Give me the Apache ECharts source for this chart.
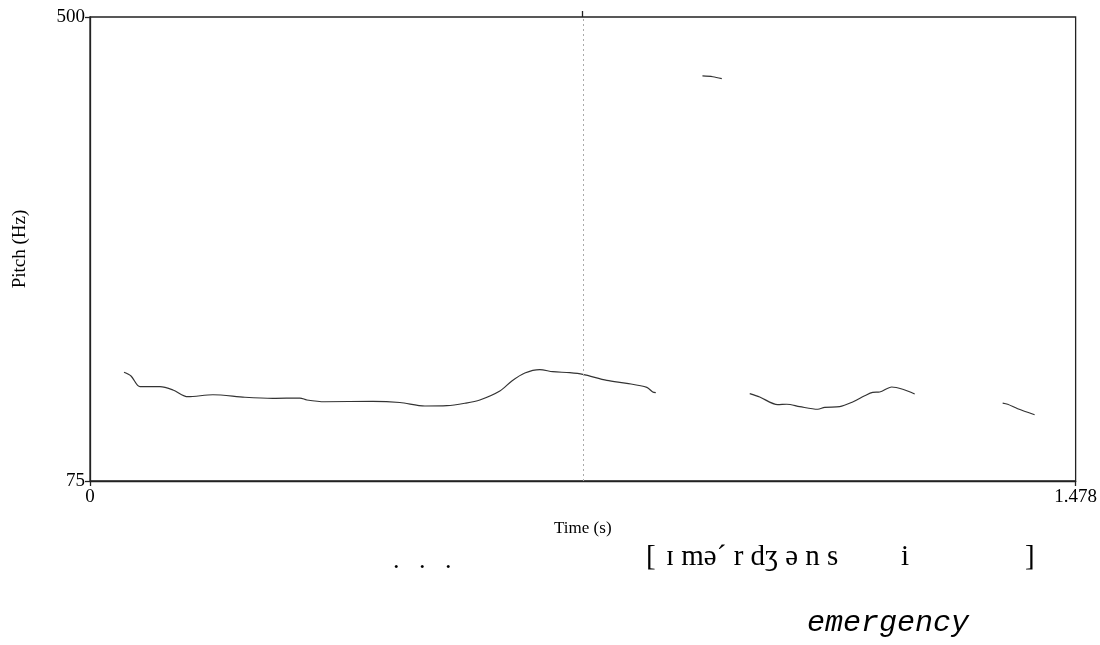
<!DOCTYPE html>
<html>
<head>
<meta charset="utf-8">
<script src="https://cdn.jsdelivr.net/npm/echarts@6/dist/echarts.min.js"></script>
<style>
  html, body { margin: 0; padding: 0; background: #fff; }
  #chart { width: 1100px; height: 645px; }
</style>
</head>
<body>
<div id="chart"></div>
<script>
// Pitch track (time in s, F0 in Hz), split into voiced stretches
const segmentA = [
  [0.0510, 174.6], [0.0615, 171.2], [0.0750, 161.4], [0.1049, 161.4], [0.1244, 158.4],
  [0.1469, 152.2], [0.1844, 154.0], [0.2323, 151.7], [0.2743, 150.7], [0.3148, 151.0],
  [0.3253, 149.2], [0.3523, 147.6], [0.4242, 148.0], [0.4647, 146.9], [0.5022, 143.7],
  [0.5351, 144.0], [0.5621, 146.2], [0.5846, 149.2], [0.6146, 157.4], [0.6326, 166.6],
  [0.6521, 173.9], [0.6745, 177.0], [0.6940, 175.1], [0.7195, 174.2], [0.7390, 172.7],
  [0.7750, 167.2], [0.8050, 164.5], [0.8350, 160.8], [0.8439, 156.5], [0.8484, 155.9]
];
const segmentB = [
  [0.9184, 446.0], [0.9339, 445.3], [0.9474, 443.5]
];
const segmentC = [
  [0.9893, 155.0], [1.0043, 151.9], [1.0313, 144.9], [1.0448, 145.3], [1.0643, 143.1],
  [1.0913, 140.7], [1.1017, 142.5], [1.1242, 143.1], [1.1437, 147.4], [1.1617, 153.1],
  [1.1737, 156.2], [1.1842, 156.5], [1.2022, 161.1], [1.2187, 159.0], [1.2367, 154.7]
];
const segmentD = [
  [1.3686, 146.4], [1.3761, 145.3], [1.3911, 141.2], [1.4165, 135.7]
];
const segments = [segmentA, segmentB, segmentC, segmentD];

const timeTicks = [0, 1.478];
const pitchTicks = [75, 500];
const cursorTime = 0.7375;

const serif = '"Liberation Serif", "Times New Roman", "DejaVu Serif", serif';
const frameColor = '#222';

const chart = echarts.init(document.getElementById('chart'), null, { renderer: 'canvas' });

const series = segments.map((seg, i) => ({
  type: 'line',
  data: seg,
  showSymbol: false,
  smooth: 0.3,
  silent: true,
  lineStyle: { color: '#333', width: 1.2 },
  markLine: i === 0 ? {
    silent: true,
    symbol: 'none',
    label: { show: false },
    lineStyle: { color: '#aaa', type: [2, 3], width: 1 },
    data: [{ xAxis: cursorTime }]
  } : undefined
}));

chart.setOption({
  animation: false,
  backgroundColor: '#fff',
  grid: {
    left: 90, right: 24, top: 17, bottom: 164,
    show: true, borderColor: frameColor, borderWidth: 1.3, backgroundColor: 'transparent'
  },
  xAxis: [{
    type: 'value',
    min: timeTicks[0], max: timeTicks[1],
    position: 'bottom',
    name: 'Time (s)',
    nameLocation: 'middle',
    nameGap: 39,
    nameTextStyle: { fontFamily: serif, fontSize: 17, color: '#000' },
    splitLine: { show: false },
    axisLine: { show: true, onZero: false, lineStyle: { color: frameColor, width: 1.3 } },
    axisTick: { show: true, inside: false, length: 5, customValues: timeTicks, lineStyle: { color: frameColor, width: 1.3 } },
    axisLabel: {
      show: true, customValues: timeTicks, margin: 7,
      fontFamily: serif, fontSize: 19, color: '#000',
      formatter: v => String(v)
    }
  }, {
    type: 'value',
    min: timeTicks[0], max: timeTicks[1],
    position: 'top',
    splitLine: { show: false },
    axisLine: { show: false },
    axisTick: { show: true, inside: false, length: 6, customValues: [cursorTime], lineStyle: { color: frameColor, width: 1.3 } },
    axisLabel: { show: false }
  }],
  yAxis: {
    type: 'value',
    min: pitchTicks[0], max: pitchTicks[1],
    name: 'Pitch (Hz)',
    nameLocation: 'middle',
    nameGap: 60,
    nameRotate: 90,
    nameTextStyle: { fontFamily: serif, fontSize: 19, color: '#000' },
    splitLine: { show: false },
    axisLine: { show: true, onZero: false, lineStyle: { color: frameColor, width: 1.3 } },
    axisTick: { show: true, inside: false, length: 5, customValues: pitchTicks, lineStyle: { color: frameColor, width: 1.3 } },
    axisLabel: {
      show: true, customValues: pitchTicks, margin: 5,
      fontFamily: serif, fontSize: 19, color: '#000',
      formatter: v => String(v)
    }
  },
  series: series,
  graphic: [
    { type: 'text', left: 393, top: 548, style: { text: '.   .   .', font: '26px ' + serif, fill: '#000' } },
    { type: 'text', left: 646, top: 543, style: { text: '[', font: '29px ' + serif, fill: '#000' } },
    { type: 'text', left: 666, top: 543, style: { text: 'ɪ mə´ r dʒ ə n s', font: '29px ' + serif, fill: '#000' } },
    { type: 'text', left: 901, top: 543, style: { text: 'i', font: '29px ' + serif, fill: '#000' } },
    { type: 'text', left: 1025, top: 543, style: { text: ']', font: '29px ' + serif, fill: '#000' } },
    { type: 'text', left: 807, top: 608, style: { text: 'emergency', font: 'italic 30px "Liberation Mono", "Courier New", monospace', fill: '#000' } }
  ]
});
</script>
</body>
</html>
